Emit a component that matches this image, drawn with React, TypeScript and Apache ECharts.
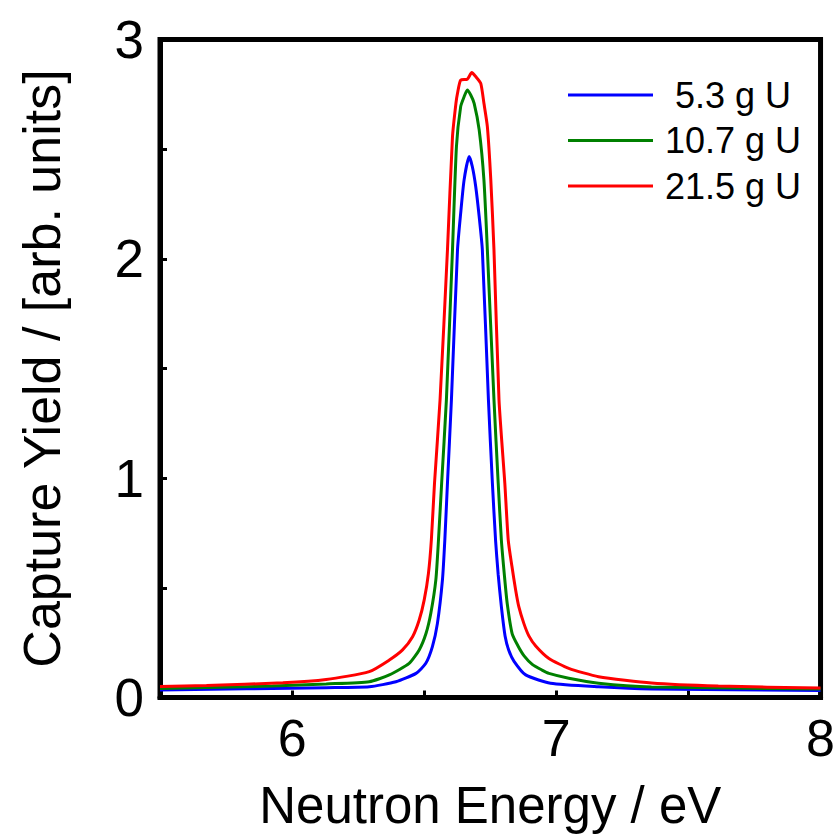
import React, { useEffect, useRef } from "react";
import * as echarts from "echarts";

const seriesNames = ["5.3 g U", "10.7 g U", "21.5 g U"];
const seriesColors = ["#0000FF", "#008000", "#FF0000"];

const blue53: [number, number][] = [
  [5.5, 0.034], [6.129, 0.045], [6.292, 0.049], [6.393, 0.072], [6.469, 0.11],
  [6.506, 0.156], [6.531, 0.232], [6.55, 0.338], [6.569, 0.536], [6.578, 0.718],
  [6.588, 0.978], [6.603, 1.358], [6.626, 2.041], [6.638, 2.208], [6.651, 2.36],
  [6.67, 2.466], [6.682, 2.421], [6.695, 2.329], [6.708, 2.193], [6.72, 2.041],
  [6.743, 1.358], [6.758, 0.978], [6.77, 0.718], [6.78, 0.56], [6.792, 0.414],
  [6.806, 0.28], [6.82, 0.215], [6.84, 0.165], [6.884, 0.103], [6.978, 0.065],
  [7.16, 0.049], [7.36, 0.039], [8.0, 0.032],
];

const green107: [number, number][] = [
  [5.5, 0.041], [5.926, 0.052], [6.129, 0.062], [6.292, 0.072], [6.368, 0.103],
  [6.443, 0.156], [6.481, 0.217], [6.507, 0.293], [6.525, 0.384], [6.544, 0.536],
  [6.554, 0.718], [6.566, 0.978], [6.584, 1.358], [6.607, 2.041], [6.622, 2.512],
  [6.638, 2.694], [6.651, 2.739], [6.663, 2.77], [6.676, 2.747], [6.689, 2.709],
  [6.708, 2.588], [6.726, 2.36], [6.739, 2.041], [6.764, 1.358], [6.78, 0.978],
  [6.792, 0.718], [6.804, 0.55], [6.814, 0.43], [6.833, 0.29], [6.855, 0.235],
  [6.878, 0.19], [6.91, 0.15], [6.946, 0.125], [6.972, 0.11], [7.047, 0.088],
  [7.16, 0.065], [7.36, 0.048], [8.0, 0.039],
];

const red215: [number, number][] = [
  [5.5, 0.05], [5.676, 0.055], [5.965, 0.067], [6.129, 0.082], [6.292, 0.118],
  [6.368, 0.171], [6.418, 0.217], [6.456, 0.277], [6.481, 0.353], [6.5, 0.445],
  [6.516, 0.566], [6.527, 0.718], [6.539, 0.978], [6.56, 1.358], [6.588, 2.041],
  [6.607, 2.557], [6.62, 2.709], [6.626, 2.755], [6.638, 2.815], [6.663, 2.819],
  [6.68, 2.849], [6.695, 2.831], [6.714, 2.8], [6.726, 2.709], [6.739, 2.603],
  [6.752, 2.36], [6.764, 2.041], [6.783, 1.358], [6.805, 0.978], [6.818, 0.718],
  [6.832, 0.598], [6.846, 0.49], [6.858, 0.414], [6.877, 0.338], [6.896, 0.281],
  [6.922, 0.235], [6.972, 0.178], [7.047, 0.133], [7.16, 0.095], [7.36, 0.066],
  [7.613, 0.052], [8.0, 0.043],
];

const xTickLabels = ["6", "7", "8"];
const yTickLabels = ["0", "1", "2", "3"];

export default function App() {
  const ref = useRef<HTMLDivElement>(null);
  useEffect(() => {
    if (!ref.current) return;
    const chart = echarts.init(ref.current, null, { renderer: "svg" });
    const font = "'Liberation Sans', Arial, sans-serif";
    const allData = [blue53, green107, red215];
    chart.setOption({
      animation: false,
      textStyle: { fontFamily: font },
      grid: {
        left: 160,
        right: 15.5,
        top: 39.5,
        bottom: 141.5,
        show: true,
        borderColor: "#000",
        borderWidth: 5,
        backgroundColor: "transparent",
      },
      legend: {
        show: true,
        orient: "vertical",
        left: 568,
        top: 77,
        padding: 0,
        itemWidth: 85,
        itemHeight: 3,
        itemGap: 9.5,
        icon: "rect",
        data: seriesNames,
        formatter: (name: string) => (name === "5.3 g U" ? "\u00a0" + name : name),
        textStyle: {
          fontFamily: font,
          fontSize: 36,
          color: "#000",
          padding: [0, 0, 0, 7],
        },
      },
      xAxis: {
        type: "value",
        min: 5.5,
        max: 8,
        interval: 0.5,
        name: "Neutron Energy / eV",
        nameLocation: "middle",
        nameGap: 82,
        nameTextStyle: { fontFamily: font, fontSize: 51, color: "#000" },
        axisLine: { show: true, lineStyle: { color: "#000", width: 5 } },
        axisTick: { show: true, inside: true, length: 7, lineStyle: { color: "#000", width: 3 } },
        axisLabel: {
          fontFamily: font,
          fontSize: 52,
          color: "#000",
          margin: 14,
          formatter: (v: number) => {
            const s = String(Math.round(v));
            return Math.abs(v - Math.round(v)) < 1e-6 && xTickLabels.includes(s) ? s : "";
          },
        },
        splitLine: { show: false },
      },
      yAxis: {
        type: "value",
        min: 0,
        max: 3,
        interval: 0.5,
        name: "Capture Yield / [arb. units]",
        nameLocation: "middle",
        nameGap: 92,
        nameTextStyle: { fontFamily: font, fontSize: 52, color: "#000" },
        axisLine: { show: true, lineStyle: { color: "#000", width: 5 } },
        axisTick: { show: true, inside: true, length: 7, lineStyle: { color: "#000", width: 3 } },
        axisLabel: {
          fontFamily: font,
          fontSize: 53,
          color: "#000",
          margin: 16,
          formatter: (v: number) => {
            const s = String(Math.round(v));
            return Math.abs(v - Math.round(v)) < 1e-6 && yTickLabels.includes(s) ? s : "";
          },
        },
        splitLine: { show: false },
      },
      series: seriesNames.map((name, i) => ({
        name,
        type: "line",
        data: allData[i],
        symbol: "none",
        smooth: 0.2,
        lineStyle: { color: seriesColors[i], width: 3 },
        itemStyle: { color: seriesColors[i] },
        z: 3 + i,
      })),
    });
    return () => chart.dispose();
  }, []);
  return <div ref={ref} style={{ width: 838, height: 839, position: "absolute", left: 0, top: 0 }} />;
}
